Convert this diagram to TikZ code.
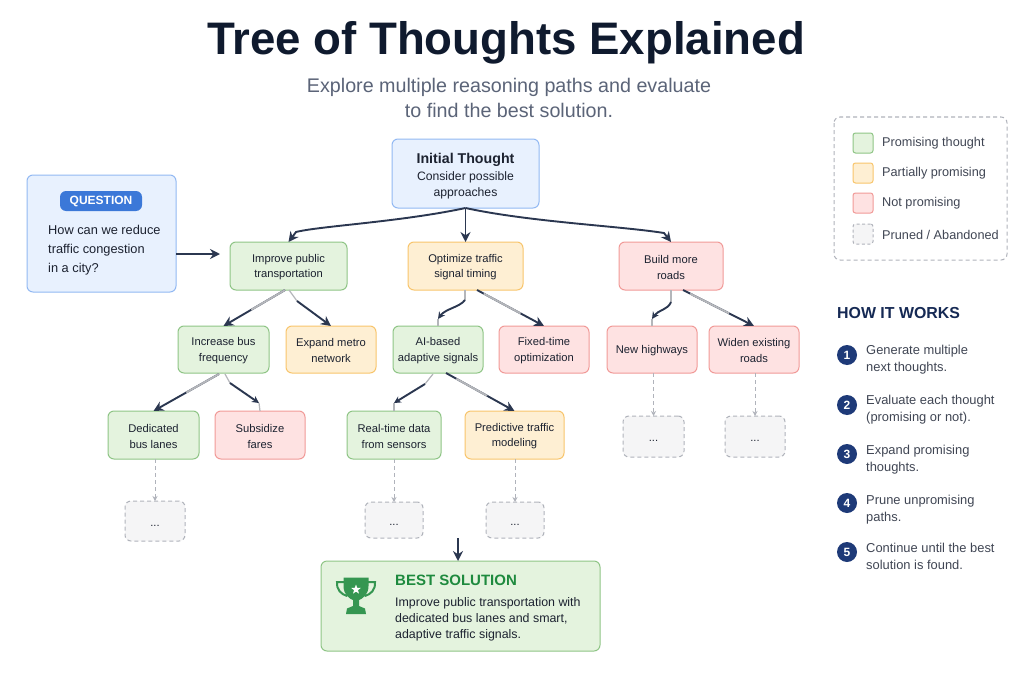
\documentclass[tikz,border=0pt]{standalone}
\usepackage{fontspec}
\setmainfont{Liberation Sans}
\usetikzlibrary{calc,arrows.meta,shapes.geometric}
\definecolor{wirec}{HTML}{2B3750}
\definecolor{wiregray}{HTML}{B4B6BA}
\definecolor{gf}{HTML}{E4F3DE}\definecolor{gs}{HTML}{8FC586}
\definecolor{of}{HTML}{FEEFD3}\definecolor{os}{HTML}{F8C56C}
\definecolor{rf}{HTML}{FEE2E2}\definecolor{rs}{HTML}{F19A98}
\definecolor{bf}{HTML}{E8F1FE}\definecolor{bs}{HTML}{92B9F3}
\definecolor{pf}{HTML}{F5F5F6}\definecolor{ps}{HTML}{B0B3BB}
\definecolor{navy}{HTML}{1E3A78}
\definecolor{inkc}{HTML}{1C2230}
\definecolor{titlec}{HTML}{0F1A2E}
\definecolor{subc}{HTML}{5B6478}
\definecolor{winc}{HTML}{1E8A3E}
\definecolor{pillc}{HTML}{3B78D8}
\tikzset{
  box/.style={draw,rounded corners=6pt,line width=1pt,inner sep=0pt,outer sep=0pt,align=center,text=inkc,font=\fontsize{11.2}{15.8}\selectfont},
  goodbox/.style={box,fill=gf,draw=gs},
  partbox/.style={box,fill=of,draw=os},
  badbox/.style={box,fill=rf,draw=rs},
  bluebox/.style={box,fill=bf,draw=bs},
  prunebox/.style={box,fill=pf,draw=ps,dash pattern=on 4pt off 3pt},
  wire/.style={draw=wirec,line width=1.9pt,-{Stealth[length=10pt,width=10pt]}},
  smalltip/.style={draw=wirec,line width=1.9pt,-{Stealth[length=7pt,width=7pt]}},
  faded/.style={draw=wiregray,line width=1.9pt},
  stub/.style={draw=wiregray,line width=1.2pt},
  prunewire/.style={draw=ps,line width=1pt,dash pattern=on 4pt off 3pt,-{Stealth[length=5pt,width=5pt]}},
  swatch/.style={draw,rounded corners=2.5pt,line width=1pt,minimum size=20pt,inner sep=0pt,outer sep=0pt},
  legendtext/.style={anchor=west,text=subc!70!black,font=\fontsize{12.7}{13}\selectfont,inner sep=0pt},
  stepnum/.style={circle,fill=navy,text=white,minimum size=20pt,inner sep=0pt,font=\fontsize{12}{12}\selectfont\bfseries},
  steptext/.style={anchor=north west,align=left,inner sep=0pt,text=subc!70!black,font=\fontsize{12.9}{17.3}\selectfont},
}
\newcommand{\bx}[7]{%
  \pgfmathsetmacro{\bw}{#5-#3}\pgfmathsetmacro{\bh}{#6-#4}%
  \pgfmathsetmacro{\bcx}{(#5+#3)/2}\pgfmathsetmacro{\bcy}{(#6+#4)/2}%
  \node[#2,minimum width=\bw pt,minimum height=\bh pt] (#1) at (\bcx,\bcy) {\rule{0pt}{10.5pt}#7};}
\newcommand{\fadepart}[4]{\draw[faded] ($(#1)!#3!(#2)$) -- ($(#1)!#4!(#2)$);}
\begin{document}
\begin{tikzpicture}[x=1pt,y=-1pt]
\useasboundingbox (0,0) rectangle (1024,682);
\fill[white] (0,0) rectangle (1024,682);
% title
\node[text=titlec,inner sep=0pt,font=\fontsize{45.6}{50}\selectfont\bfseries] (title) at (506,43) {Tree of Thoughts Explained};
\node[text=subc,inner sep=0pt,align=center,font=\fontsize{19.7}{25}\selectfont] (sub) at (509,97.5) {Explore multiple reasoning paths and evaluate\\to find the best solution.};
% boxes
\bx{q}{bluebox}{27}{175}{176}{292}{}
\node[fill=pillc,rounded corners=6pt,inner sep=0pt,minimum width=82pt,minimum height=20pt,text=white,font=\fontsize{12}{13}\selectfont\bfseries] (pill) at (101,201) {QUESTION};
\node[anchor=north west,inner sep=0pt,align=left,text=inkc,font=\fontsize{12.8}{19}\selectfont] (qt) at (48,225) {How can we reduce\\traffic congestion\\in a city?};
\bx{init}{bluebox}{392}{139}{539}{208}{\rule{0pt}{15.5pt}{\fontsize{14.2}{18}\selectfont\bfseries Initial Thought}\\[2pt]{\fontsize{12.2}{16}\selectfont Consider possible}\\{\fontsize{12.2}{16}\selectfont approaches}}
\bx{imp}{goodbox}{230}{242}{347}{290}{Improve public\\transportation}
\bx{opt}{partbox}{408}{242}{523}{290}{Optimize traffic\\signal timing}
\bx{bld}{badbox}{619}{242}{723}{290}{Build more\\roads}
\bx{inc}{goodbox}{178}{326}{269}{373}{Increase bus\\frequency}
\bx{exp}{partbox}{286}{326}{376}{373}{Expand metro\\network}
\bx{ai}{goodbox}{393}{326}{483}{373}{AI-based\\adaptive signals}
\bx{fix}{badbox}{499}{326}{589}{373}{Fixed-time\\optimization}
\bx{new}{badbox}{607}{326}{697}{373}{New highways}
\bx{wid}{badbox}{709}{326}{799}{373}{Widen existing\\roads}
\bx{ded}{goodbox}{108}{411}{199}{459}{Dedicated\\bus lanes}
\bx{sub2}{badbox}{215}{411}{305}{459}{Subsidize\\fares}
\bx{rt}{goodbox}{347}{411}{441}{459}{Real-time data\\from sensors}
\bx{pre}{partbox}{465}{411}{564}{459}{Predictive traffic\\modeling}
\bx{d1}{prunebox}{125}{501}{185}{541}{...}
\bx{d2}{prunebox}{365}{502}{423}{538}{...}
\bx{d3}{prunebox}{486}{502}{544}{538}{...}
\bx{d4}{prunebox}{623}{416}{684}{457}{...}
\bx{d5}{prunebox}{725}{416}{785}{457}{...}
\bx{best}{goodbox}{321}{561}{600}{651}{}
% best solution content
\node[anchor=west,inner sep=0pt,text=winc,font=\fontsize{15}{17}\selectfont\bfseries] (bt) at (395,580.5) {BEST SOLUTION};
\node[anchor=north west,inner sep=0pt,align=left,text=inkc,font=\fontsize{12.4}{16}\selectfont] (bd) at (395,597.5) {Improve public transportation with\\dedicated bus lanes and smart,\\adaptive traffic signals.};
% trophy
\fill[winc!90!white] (343.5,577.5) -- (368.5,577.5) -- (368.5,586) .. controls (368.5,595) and (362,599) .. (359,600) -- (359,606) -- (365,608.5) -- (366,614) -- (346,614) -- (347,608.5) -- (353,606) -- (353,600) .. controls (350,599) and (343.5,595) .. (343.5,586) -- cycle;
\draw[winc!90!white,line width=2pt] (344,582) -- (337,582) .. controls (336.5,590) and (341,594) .. (347,596);
\draw[winc!90!white,line width=2pt] (368,582) -- (375,582) .. controls (375.5,590) and (371,594) .. (365,596);
\node[star,star points=5,star point ratio=2.4,fill=white,inner sep=0pt,minimum size=10pt] (trophystar) at (356,589.5) {};
% connectors
\draw[wire] (init.south) .. controls (400,222) and (320,226) .. (296,232) -- (imp.north);
\draw[wire] (init.south) -- (opt.north);
\draw[wire] (init.south) .. controls (530,222) and (620,226) .. (664,233) -- (bld.north);
\draw[wire] (q.east|-0,254) -- (220,254);
\draw[wire] (285,290) -- (inc.north);
\fadepart{285,290}{inc.north}{0}{.55}
\draw[stub] (289,290) -- (297,301);
\draw[wire] (297,301) -- (exp.north);
\draw[wire] (219,374) -- (ded.north);
\fadepart{219,374}{ded.north}{0}{.5}
\draw[stub] (225,374) -- (230,383);
\draw[smalltip] (230,383) -- (259,403);
\draw[stub] (259,403) -- (sub2.north);
\draw[stub] (465,290) -- (465,300);
\draw[smalltip] (465,300) .. controls (460,307) and (445,309) .. (438,319);
\draw[stub] (438,319) -- (ai.north);
\draw[wire] (477,290) -- (fix.north);
\fadepart{477,290}{fix.north}{.1}{.65}
\draw[stub] (671,290) -- (671,302);
\draw[smalltip] (671,302) .. controls (668,310) and (658,310) .. (652,319);
\draw[stub] (652,319) -- (new.north);
\draw[wire] (683,290) -- (wid.north);
\fadepart{683,290}{wid.north}{.1}{.65}
\draw[stub] (433,374) -- (425,384);
\draw[smalltip] (425,384) -- (394,403);
\draw[stub] (394,403) -- (rt.north);
\draw[wire] (446,373) -- (pre.north);
\fadepart{446,373}{pre.north}{.15}{.6}
\draw[prunewire] (d1.north|-ded.south) -- (d1.north);
\draw[prunewire] (d2.north|-rt.south) -- (d2.north);
\draw[prunewire] (d3.north|-pre.south) -- (d3.north);
\draw[prunewire] (d4.north|-new.south) -- (d4.north);
\draw[prunewire] (d5.north|-wid.south) -- (d5.north);
\coordinate (winfrom) at (458,538);
\draw[wire] (winfrom) -- (458,561);
% legend
\draw[draw=ps,line width=1pt,rounded corners=6pt,dash pattern=on 4pt off 3pt] (834,117) rectangle (1007,260);
\node[swatch,fill=gf,draw=gs] (s1) at (863,143) {};
\node[swatch,fill=of,draw=os] (s2) at (863,173) {};
\node[swatch,fill=rf,draw=rs] (s3) at (863,203) {};
\node[swatch,fill=pf,draw=ps,dash pattern=on 3pt off 2.5pt] (s4) at (863,234) {};
\node[legendtext] (l1) at (882,143.5) {Promising thought};
\node[legendtext] (l2) at (882,173.5) {Partially promising};
\node[legendtext] (l3) at (882,203.5) {Not promising};
\node[legendtext] (l4) at (882,234.5) {Pruned / Abandoned};
% how it works
\node[anchor=west,inner sep=0pt,text=navy!70!black,font=\fontsize{15.9}{17}\selectfont\bfseries] (how) at (837,313) {HOW IT WORKS};
\node[stepnum] (n1) at (847,355) {1};
\node[stepnum] (n2) at (847,405) {2};
\node[stepnum] (n3) at (847,454) {3};
\node[stepnum] (n4) at (847,503) {4};
\node[stepnum] (n5) at (847,552) {5};
\node[steptext] (t1) at (866,344.5) {Generate multiple\\next thoughts.};
\node[steptext] (t2) at (866,394.5) {Evaluate each thought\\(promising or not).};
\node[steptext] (t3) at (866,444.5) {Expand promising\\thoughts.};
\node[steptext] (t4) at (866,494.5) {Prune unpromising\\paths.};
\node[steptext] (t5) at (866,543) {Continue until the best\\solution is found.};
\end{tikzpicture}
\end{document}
